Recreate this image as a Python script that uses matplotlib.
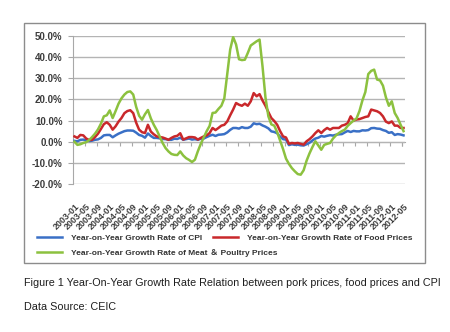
import matplotlib
matplotlib.use("Agg")
import matplotlib.pyplot as plt
from matplotlib.lines import Line2D
from matplotlib.patches import Rectangle
import pandas as pd

# monthly year-on-year growth, 2003-01 .. 2012-05
months = pd.period_range("2003-01", "2012-05", freq="M").strftime("%Y-%m").tolist()

cpi = [0.4, 0.2, 0.9, 1.0, 0.7, 0.3, 0.5, 0.9, 1.1, 1.8, 3.0, 3.2, 3.2, 2.1, 3.0, 3.8,
       4.4, 5.0, 5.3, 5.3, 5.2, 4.3, 3.2, 2.8, 1.9, 3.9, 2.7, 1.8, 1.8, 1.6, 1.3, 1.2,
       0.9, 0.9, 1.4, 1.3, 1.9, 0.9, 1.2, 1.5, 1.0, 1.2, 0.9, 1.4, 1.5, 2.2, 2.8, 3.3,
       2.7, 3.3, 3.4, 3.6, 4.4, 5.6, 6.5, 6.5, 6.2, 6.9, 6.5, 6.5, 7.1, 8.7, 8.3, 8.5,
       7.7, 7.1, 6.3, 4.9, 4.6, 4.0, 2.4, 1.2, 1.0, -1.6, -1.2, -1.5, -1.4, -1.7, -1.8, -1.2,
       -0.5, 0.6, 1.5, 1.9, 2.7, 2.4, 2.8, 3.1, 2.9, 3.3, 3.5, 3.6, 4.4, 5.1, 4.6, 5.1,
       4.9, 4.9, 5.4, 5.3, 5.5, 6.4, 6.5, 6.2, 6.1, 5.5, 5.1, 4.2, 4.5, 3.2, 3.6, 3.4, 3.0]

food = [2.5, 1.8, 3.2, 3.0, 1.5, 0.8, 0.9, 2.2, 3.8, 6.0, 8.3, 9.2, 8.0, 5.7, 7.3, 9.5,
        11.2, 13.5, 14.5, 14.9, 13.5, 9.0, 5.7, 4.5, 4.1, 8.0, 4.8, 3.5, 2.5, 2.2, 2.0, 1.5,
        0.9, 1.8, 2.5, 2.8, 4.0, 1.0, 1.6, 2.2, 2.2, 2.0, 1.0, 1.8, 2.5, 3.0, 4.1, 6.5,
        5.5, 6.5, 7.6, 8.0, 9.6, 12.5, 15.2, 18.3, 17.5, 17.0, 18.0, 17.0, 19.1, 23.0, 21.5, 22.5,
        19.5, 17.0, 14.0, 11.2, 9.8, 8.0, 5.0, 2.5, 2.0, -1.0, -0.6, -0.8, -0.6, -1.0, -1.4, 0.2,
        1.2, 2.5, 4.1, 5.4, 4.1, 5.5, 6.5, 5.7, 6.5, 6.5, 6.5, 7.6, 8.0, 8.8, 12.0, 10.0,
        10.5, 10.7, 11.2, 11.7, 12.0, 15.2, 14.8, 14.4, 13.6, 12.0, 9.5, 8.8, 9.6, 7.6, 7.6, 6.5, 6.5]

meat = [0.0, -1.5, -1.2, -0.6, -0.2, 0.8, 2.2, 3.8, 5.8, 8.5, 12.0, 12.5, 14.8, 11.2, 14.5, 18.0,
        20.5, 22.3, 23.5, 23.8, 22.3, 16.5, 12.3, 10.4, 13.0, 15.0, 11.0, 8.0, 5.5, 2.5, -0.6, -3.0,
        -4.6, -5.8, -6.2, -6.3, -4.6, -6.5, -7.8, -8.6, -9.6, -8.5, -4.5, -1.0, 2.0, 5.0, 7.5, 13.6,
        13.8, 15.5, 17.0, 20.5, 32.0, 43.6, 49.5, 46.0, 39.0, 38.6, 38.8, 42.0, 45.5, 46.5, 47.5, 48.3,
        35.7, 21.0, 12.0, 8.2, 7.6, 4.5, 0.5, -3.5, -8.0, -10.5, -12.5, -14.0, -15.3, -15.6, -13.5, -9.0,
        -5.5, -2.5, 0.2, -1.8, -3.8, -1.5, -1.0, -0.6, 1.5, 3.0, 4.1, 5.0, 5.7, 7.5, 8.8, 10.0,
        11.0, 14.5, 19.5, 23.5, 32.0, 33.5, 34.1, 29.4, 29.0, 26.5, 21.0, 17.0, 19.1, 13.6, 11.2, 8.0, 5.0]

labels = ["Year-on-Year Growth Rate of CPI",
          "Year-on-Year Growth Rate of Food Prices",
          "Year-on-Year Growth Rate of Meat \uff06 Poultry Prices"]
colors = ["#3a70c6", "#c9282b", "#8cc13f"]
yticks = [-20, -10, 0, 10, 20, 30, 40, 50]

W, H = 450, 332
fig = plt.figure(figsize=(W / 100, H / 100), dpi=100)
fig.patch.set_facecolor("white")

# outer chart frame
fig.patches.append(Rectangle((24 / W, 1 - 263 / H), 401 / W, 240 / H,
                             transform=fig.transFigure, fill=False,
                             edgecolor="#8c8c8c", lw=1.0))

ax = fig.add_axes([73 / W, 1 - 184 / H, 332 / W, 148 / H])
x = list(range(len(months)))
ax.plot(x, cpi, color=colors[0], lw=1.8, zorder=3)
ax.plot(x, food, color=colors[1], lw=1.8, zorder=4)
ax.plot(x, meat, color=colors[2], lw=1.8, zorder=5)

ax.set_xlim(-0.5, len(months) - 0.5)
ax.set_ylim(-20, 50)
ax.set_yticks(yticks)
ax.set_yticklabels([f"{v:.1f}%" for v in yticks])
ax.yaxis.grid(True, color="#b4b4b4", lw=1.0)
ax.set_axisbelow(True)
for s in ["top", "right", "bottom"]:
    ax.spines[s].set_visible(False)
ax.spines["left"].set_color("#a8a8a8")
ax.tick_params(axis="y", length=3.5, color="#a8a8a8", pad=4,
               labelsize=7, labelcolor="#3c3c3c")
for t in ax.get_yticklabels():
    t.set_fontfamily("Liberation Sans")
    t.set_fontweight("bold")

# category labels every 4 months
ax.set_xticks(x[::4])
ax.set_xticklabels(months[::4], rotation=45, ha="right", va="top",
                   rotation_mode="anchor", fontsize=6.4, color="#3c3c3c",
                   fontfamily="Liberation Sans", fontweight="bold")
ax.tick_params(axis="x", length=0, pad=13)

# category axis drawn on the zero line
zero = ax.secondary_xaxis(20 / 70)
zero.set_xticks([v - 0.5 for v in x[::4]] + [len(months) - 1.5])
zero.tick_params(axis="x", length=3, color="#a8a8a8", labelbottom=False)
zero.spines["bottom"].set_color("#a8a8a8")

handles = [Line2D([], [], color=c, lw=1.8) for c in colors]
leg_kw = dict(frameon=False,
              prop={"family": ["Liberation Sans", "Noto Sans CJK SC"],
                    "weight": "bold", "size": 6.0},
              labelcolor="#333333", handlelength=3.0, handletextpad=1.1,
              labelspacing=0.85, borderaxespad=0, borderpad=0)
leg1 = fig.legend([handles[0], handles[2]], [labels[0], labels[2]], loc="upper left",
                  bbox_to_anchor=(37 / W, 1 - 234 / H), **leg_kw)
leg2 = fig.legend([handles[1]], [labels[1]], loc="upper left",
                  bbox_to_anchor=(213 / W, 1 - 234 / H), **leg_kw)

fig.text(24 / W, 1 - 283 / H,
         "Figure 1 Year-On-Year Growth Rate Relation between pork prices, food prices and CPI",
         fontsize=7.75, family="Liberation Sans", color="#1e1e1e", va="center")
fig.text(24 / W, 1 - 307 / H, "Data Source: CEIC",
         fontsize=7.75, family="Liberation Sans", color="#1e1e1e", va="center")

fig.savefig("out.png", dpi=100)
